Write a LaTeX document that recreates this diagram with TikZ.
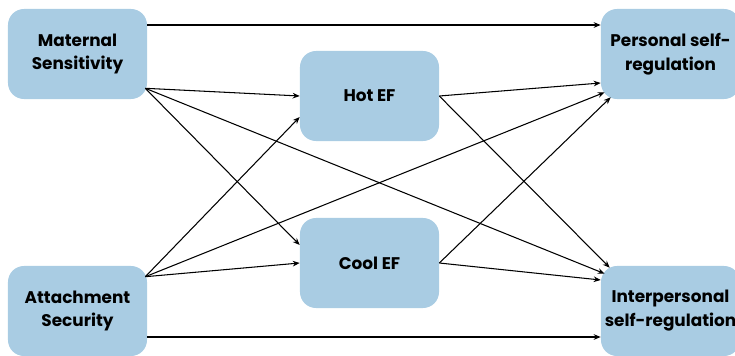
\documentclass[tikz,border=0pt]{standalone}
\usepackage{fontspec}
\setmainfont{Poppins}
\usetikzlibrary{arrows.meta, positioning, calc}
\definecolor{boxblue}{RGB}{169,204,227}
\begin{document}
\begin{tikzpicture}[x=0.025cm, y=-0.025cm]
    \tikzstyle{var} = [fill=boxblue, rounded corners=0.4cm, minimum width=3.475cm, minimum height=2.25cm, align=center, font=\fontsize{12}{17}\selectfont\bfseries, inner sep=0pt]
    \tikzstyle{path} = [-{Stealth[length=5pt, width=4pt]}, line width=0.75pt]
    \useasboundingbox (0,0) rectangle (735,355);
    \clip (0,0) rectangle (735,355);

    \node[var] (maternal) at (77.5, 54) {Maternal\\Sensitivity};
    \node[var] (attach) at (77.5, 311) {Attachment\\Security};
    \node[var] (hot) at (369.5, 96) {Hot EF};
    \node[var] (cool) at (369.5, 263) {Cool EF};
    \node[var] (personal) at (670.5, 54) {Personal self-\\regulation};
    \node[var] (inter) at (670.5, 311) {Interpersonal\\self-regulation};

    \coordinate (matout) at ($(maternal.south east)+(-2,-11)$);
    \coordinate (attout) at ($(attach.north east)+(-2,11)$);

    % direct paths
    \draw[path] ($(maternal.east)+(0,-29)$) -- ($(personal.west)+(0,-29)$);
    \draw[path] ($(attach.east)+(0,26)$) -- ($(inter.west)+(0,26)$);
    \draw[path] (matout) -- ($(inter.north west)+(4,8)$);
    \draw[path] (attout) -- ($(personal.south west)+(4,-7)$);

    % into the EFs
    \draw[path] (matout) -- (hot.west);
    \draw[path] (matout) -- ($(cool.west)+(0,-18)$);
    \draw[path] (attout) -- ($(hot.west)+(0,21)$);
    \draw[path] (attout) -- (cool.west);

    % out of the EFs
    \draw[path] (hot.east) -- ($(personal.west)+(0,29)$);
    \draw[path] (hot.east) -- ($(inter.north west)+(9,2)$);
    \draw[path] (cool.east) -- ($(personal.south west)+(10,-2)$);
    \draw[path] (cool.east) -- ($(inter.west)+(0,-31)$);
\end{tikzpicture}
\end{document}
